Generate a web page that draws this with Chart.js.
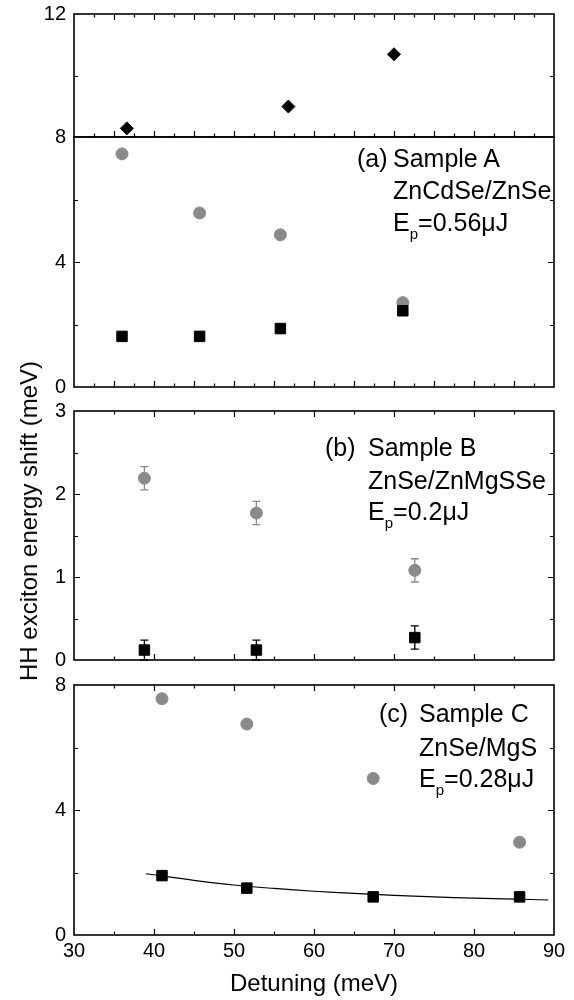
<!DOCTYPE html>
<html><head><meta charset="utf-8">
<script src="https://cdn.jsdelivr.net/npm/chart.js@4/dist/chart.umd.min.js"></script>
<style>
html,body{margin:0;padding:0;background:#fff;}
body{width:574px;height:1000px;position:relative;overflow:hidden;font-family:"Liberation Sans",Arial,sans-serif;}
.pc{position:absolute;left:0;}
.pc canvas{display:block;}
.txt{position:absolute;font-size:25px;color:#000;white-space:nowrap;line-height:25px;}
.sub{font-size:15px;position:relative;top:8px;}
.title{position:absolute;font-size:24px;color:#000;white-space:nowrap;line-height:24px;}
</style></head><body>

<div class="pc" id="wa1"><canvas id="ca1"></canvas></div>
<div class="pc" id="wa2"><canvas id="ca2"></canvas></div>
<div class="pc" id="wb"><canvas id="cb"></canvas></div>
<div class="pc" id="wc"><canvas id="cc"></canvas></div>

<div class="txt" style="left:357px;top:146px;">(a)</div>
<div class="txt" style="left:393px;top:146px;">Sample A</div>
<div class="txt" style="left:393px;top:178px;">ZnCdSe/ZnSe</div>
<div class="txt" style="left:393px;top:210px;">E<span class="sub">p</span>=0.56μJ</div>

<div class="txt" style="left:325px;top:435px;">(b)</div>
<div class="txt" style="left:368px;top:435px;">Sample B</div>
<div class="txt" style="left:368px;top:468px;">ZnSe/ZnMgSSe</div>
<div class="txt" style="left:368px;top:499px;">E<span class="sub">p</span>=0.2μJ</div>

<div class="txt" style="left:379px;top:701px;">(c)</div>
<div class="txt" style="left:419px;top:701px;">Sample C</div>
<div class="txt" style="left:419px;top:735px;">ZnSe/MgS</div>
<div class="txt" style="left:419px;top:766px;">E<span class="sub">p</span>=0.28μJ</div>

<div class="title" style="left:314px;top:983px;transform:translate(-50%,-50%);">Detuning (meV)</div>
<div class="title" style="left:29px;top:521px;transform:translate(-50%,-50%) rotate(-90deg);">HH exciton energy shift (meV)</div>

<script>
// ---------- data ----------
const X_MIN = 30, X_MAX = 90;
const X_TICK_LABELS = [30, 40, 50, 60, 70, 80, 90];

// Panel (a) Sample A
const A_diamond_x = [36.6, 56.8, 70.0];
const A_diamond_y = [8.28, 8.99, 10.69];
const A_x = [36.0, 45.7, 55.8, 71.1];
const A_circle_y = [7.46, 5.57, 4.87, 2.70];
const A_square_y = [1.62, 1.62, 1.87, 2.44];
const A_top_y_labels = [8, 12];
const A_bottom_y_labels = [0, 4];

// Panel (b) Sample B
const B_x = [38.8, 52.8, 72.6];
const B_circle_y = [2.19, 1.77, 1.08];
const B_circle_err = [0.14, 0.14, 0.14];
const B_square_y = [0.12, 0.12, 0.27];
const B_square_err = [0.12, 0.12, 0.14];
const B_y_labels = [0, 1, 2, 3];

// Panel (c) Sample C
const C_x = [41.0, 51.6, 67.4, 85.7];
const C_circle_y = [7.56, 6.75, 5.01, 2.97];
const C_square_y = [1.90, 1.50, 1.22, 1.22];
const C_fit_x = [39, 45, 50, 55, 60, 65, 70, 75, 80, 85, 89.3];
const C_fit_y = [1.96, 1.75, 1.60, 1.49, 1.40, 1.33, 1.27, 1.22, 1.18, 1.15, 1.12];
const C_y_labels = [0, 4, 8];

// ---------- helpers ----------
const FONT = '"Liberation Sans", Arial, sans-serif';
const GREY = '#8a8a8a';
const PAD = 24;
const pts = (xs, ys) => xs.map((x, i) => ({x: x, y: ys[i]}));

function circles(xs, ys, err) {
  return {data: pts(xs, ys), pointStyle: 'circle', pointRadius: 6, backgroundColor: GREY,
          borderColor: GREY, borderWidth: 1, showLine: false, errorBars: err, errorColor: GREY};
}
function squares(xs, ys, err) {
  return {data: pts(xs, ys), pointStyle: 'rect', pointRadius: 7.4, backgroundColor: '#000',
          borderColor: '#000', borderWidth: 1, showLine: false, errorBars: err, errorColor: '#000'};
}
function diamonds(xs, ys) {
  return {data: pts(xs, ys), pointStyle: 'rectRot', pointRadius: 6.5, backgroundColor: '#000',
          borderColor: '#000', borderWidth: 1, showLine: false};
}

const errorBarPlugin = {
  id: 'errorBars',
  beforeDatasetsDraw(chart) {
    const ctx = chart.ctx, x = chart.scales.x, y = chart.scales.y;
    chart.data.datasets.forEach(ds => {
      if (!ds.errorBars) return;
      ctx.save();
      ctx.strokeStyle = ds.errorColor; ctx.lineWidth = 1.3;
      ds.data.forEach((p, i) => {
        const e = ds.errorBars[i];
        const px = x.getPixelForValue(p.x);
        const y1 = y.getPixelForValue(p.y - e), y2 = y.getPixelForValue(p.y + e);
        ctx.beginPath();
        ctx.moveTo(px, y1); ctx.lineTo(px, y2);
        ctx.moveTo(px - 4, y1); ctx.lineTo(px + 4, y1);
        ctx.moveTo(px - 4, y2); ctx.lineTo(px + 4, y2);
        ctx.stroke();
      });
      ctx.restore();
    });
  }
};

const frameTicksPlugin = {
  id: 'frameTicks',
  afterDraw(chart, args, o) {
    const ctx = chart.ctx, a = chart.chartArea, xs = chart.scales.x, ys = chart.scales.y;
    ctx.save();
    ctx.strokeStyle = '#000';
    ctx.lineWidth = 1.2;
    const isMajor = (v, m) => Math.abs(v / m - Math.round(v / m)) < 1e-6;
    const nx = Math.round((xs.max - xs.min) / o.xMinor);
    for (let i = 1; i < nx; i++) {
      const v = xs.min + i * o.xMinor;
      const px = Math.round(xs.getPixelForValue(v)) + 0.5;
      const len = isMajor(v, o.xMajor) ? 6 : 3.5;
      ctx.beginPath();
      if (o.xTop) { ctx.moveTo(px, a.top); ctx.lineTo(px, a.top + len); }
      if (o.xBottom) { ctx.moveTo(px, a.bottom); ctx.lineTo(px, a.bottom - len); }
      ctx.stroke();
    }
    const ny = Math.round((ys.max - ys.min) / o.yMinor);
    for (let i = 1; i < ny; i++) {
      const v = ys.min + i * o.yMinor;
      const py = Math.round(ys.getPixelForValue(v)) + 0.5;
      const len = isMajor(v, o.yMajor) ? 6 : 4;
      ctx.beginPath();
      ctx.moveTo(a.left, py); ctx.lineTo(a.left + len, py);
      ctx.moveTo(a.right, py); ctx.lineTo(a.right - len, py);
      ctx.stroke();
    }
    ctx.lineWidth = 1.6;
    ctx.strokeRect(a.left, a.top, a.right - a.left, a.bottom - a.top);
    ctx.restore();
  }
};

function makePanel(wrapId, canvasId, cfg) {
  const xH = cfg.showX ? 44 : 0;
  const padBottom = cfg.showX ? 0 : PAD;
  const H = PAD + (cfg.bottom - cfg.top) + xH + padBottom;
  const wrap = document.getElementById(wrapId);
  wrap.style.top = (cfg.top - PAD) + 'px';
  wrap.style.width = '574px';
  wrap.style.height = H + 'px';
  const cv = document.getElementById(canvasId);
  cv.width = 574; cv.height = H;
  cv.style.width = '574px'; cv.style.height = H + 'px';
  return new Chart(cv, {
    type: 'scatter',
    data: {datasets: cfg.datasets},
    plugins: [errorBarPlugin, frameTicksPlugin],
    options: {
      responsive: false, animation: false, devicePixelRatio: 1,
      layout: {padding: {top: PAD, right: 20, bottom: padBottom, left: 0}},
      plugins: {legend: {display: false}, tooltip: {enabled: false},
                frameTicks: cfg.ticks},
      scales: {
        x: {type: 'linear', min: X_MIN, max: X_MAX,
            grid: {display: false, drawTicks: false}, border: {display: false},
            ticks: {display: cfg.showX, stepSize: 10, autoSkip: false, maxRotation: 0, padding: 4,
                    color: '#000', font: {size: 20, family: FONT},
                    callback: v => X_TICK_LABELS.includes(v) ? String(v) : ''},
            afterFit: s => { s.height = xH; }},
        y: {type: 'linear', min: cfg.yMin, max: cfg.yMax,
            grid: {display: false, drawTicks: false}, border: {display: false},
            ticks: {stepSize: cfg.yStep, autoSkip: false, padding: 8, color: '#000',
                    font: {size: 20, family: FONT},
                    callback: v => cfg.yLabels.includes(v) ? String(v) : ''},
            afterFit: s => { s.width = 74; }}
      }
    }
  });
}

// Panel (a) upper part (8-12)
makePanel('wa1', 'ca1', {
  top: 14, bottom: 137, yMin: 8, yMax: 12, yStep: 2,
  yLabels: A_top_y_labels, showX: false,
  ticks: {xMinor: 2.5, xMajor: 5, yMinor: 2, yMajor: 4, xTop: true, xBottom: true},
  datasets: [diamonds(A_diamond_x, A_diamond_y)]
});
// Panel (a) lower part (0-8)
makePanel('wa2', 'ca2', {
  top: 137, bottom: 387, yMin: 0, yMax: 8, yStep: 2,
  yLabels: A_bottom_y_labels, showX: false,
  ticks: {xMinor: 2.5, xMajor: 5, yMinor: 2, yMajor: 4, xTop: false, xBottom: true},
  datasets: [squares(A_x, A_square_y), circles(A_x, A_circle_y)]
});
// Panel (b)
makePanel('wb', 'cb', {
  top: 411, bottom: 660, yMin: 0, yMax: 3, yStep: 0.5,
  yLabels: B_y_labels, showX: false,
  ticks: {xMinor: 5, xMajor: 10, yMinor: 0.5, yMajor: 1, xTop: true, xBottom: true},
  datasets: [squares(B_x, B_square_y, B_square_err), circles(B_x, B_circle_y, B_circle_err)]
});
// Panel (c)
makePanel('wc', 'cc', {
  top: 685, bottom: 935, yMin: 0, yMax: 8, yStep: 2,
  yLabels: C_y_labels, showX: true,
  ticks: {xMinor: 5, xMajor: 10, yMinor: 2, yMajor: 4, xTop: true, xBottom: true},
  datasets: [
    squares(C_x, C_square_y),
    circles(C_x, C_circle_y),
    {data: pts(C_fit_x, C_fit_y), showLine: true, pointRadius: 0, borderColor: '#000',
     borderWidth: 1.2, tension: 0.4, fill: false}
  ]
});
</script>
</body></html>
